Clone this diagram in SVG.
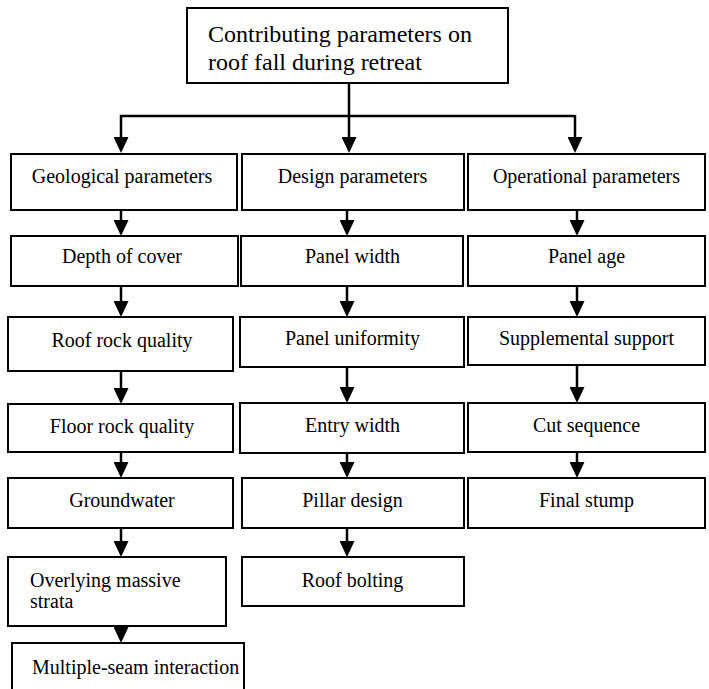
<svg xmlns="http://www.w3.org/2000/svg" width="709" height="689" viewBox="0 0 709 689">
<style>
rect{fill:#fff;stroke:#000;stroke-width:2}
text{font-family:'Liberation Serif','Times New Roman','DejaVu Serif',serif;font-size:20px;fill:#000}
.c{text-anchor:middle}
.t{font-size:24px}
.conn path{fill:none;stroke:#000;stroke-width:2.5}
</style>
<defs>
<marker id="ah" viewBox="0 0 16 15" refX="8" refY="7.5" markerWidth="16" markerHeight="15" orient="auto" markerUnits="userSpaceOnUse">
<path d="M0,0 L16,7.5 L0,15 Z" fill="#000"/>
</marker>
</defs>
<rect x="0" y="0" width="709" height="689" style="stroke:none"/>
<g font-family="Liberation Serif, serif">
<g id="root"><rect x="187" y="8" width="321" height="75"/><text class="t" x="208" y="42">Contributing parameters on</text><text class="t" x="208" y="70">roof fall during retreat</text></g>

<g id="geo"><rect x="11" y="154" width="226" height="56"/><text class="c" x="122" y="183">Geological parameters</text></g>
<g id="design"><rect x="242" y="154" width="222" height="56"/><text class="c" x="352.5" y="183">Design parameters</text></g>
<g id="oper"><rect x="468" y="154" width="237" height="56"/><text class="c" x="586.5" y="183">Operational parameters</text></g>

<g id="depth"><rect x="11" y="236" width="227" height="50"/><text class="c" x="122" y="263">Depth of cover</text></g>
<g id="pwidth"><rect x="241" y="236" width="222" height="50"/><text class="c" x="352.5" y="263">Panel width</text></g>
<g id="page"><rect x="468" y="236" width="237" height="50"/><text class="c" x="586.5" y="263">Panel age</text></g>

<g id="roofrock"><rect x="8" y="317" width="225" height="54"/><text class="c" x="122" y="347">Roof rock quality</text></g>
<g id="puni"><rect x="240" y="317" width="224" height="50"/><text class="c" x="352.5" y="345">Panel uniformity</text></g>
<g id="supp"><rect x="468" y="317" width="237" height="48"/><text class="c" x="586.5" y="345">Supplemental support</text></g>

<g id="floor"><rect x="8" y="404" width="225" height="48"/><text class="c" x="122" y="433">Floor rock quality</text></g>
<g id="entry"><rect x="240" y="403" width="224" height="50"/><text class="c" x="352.5" y="432">Entry width</text></g>
<g id="cut"><rect x="468" y="403" width="237" height="49"/><text class="c" x="586.5" y="432">Cut sequence</text></g>

<g id="ground"><rect x="8" y="478" width="225" height="50"/><text class="c" x="122" y="507">Groundwater</text></g>
<g id="pillar"><rect x="242" y="478" width="222" height="50"/><text class="c" x="352.5" y="507">Pillar design</text></g>
<g id="stump"><rect x="468" y="478" width="237" height="50"/><text class="c" x="586.5" y="507">Final stump</text></g>

<g id="overlying"><rect x="8" y="557" width="218" height="69"/><text x="30" y="587">Overlying massive</text><text x="30" y="608">strata</text></g>
<g id="bolting"><rect x="242" y="557" width="222" height="49"/><text class="c" x="352.5" y="587">Roof bolting</text></g>

<g id="multi"><rect x="12" y="643" width="232" height="60"/><text x="32" y="674">Multiple-seam interaction</text></g>
</g>
<g class="conn" id="connectors">
<path d="M349,83 V145" marker-end="url(#ah)"/>
<path d="M575,116 H121 V145" marker-end="url(#ah)"/>
<path d="M575,115 V145" marker-end="url(#ah)"/>
<path d="M121,210 V228" marker-end="url(#ah)"/>
<path d="M347,210 V228" marker-end="url(#ah)"/>
<path d="M577,210 V228" marker-end="url(#ah)"/>
<path d="M121,286 V309" marker-end="url(#ah)"/>
<path d="M347,286 V309" marker-end="url(#ah)"/>
<path d="M577,286 V309" marker-end="url(#ah)"/>
<path d="M121,371 V396" marker-end="url(#ah)"/>
<path d="M347,367 V395" marker-end="url(#ah)"/>
<path d="M577,365 V395" marker-end="url(#ah)"/>
<path d="M121,452 V470" marker-end="url(#ah)"/>
<path d="M347,453 V470" marker-end="url(#ah)"/>
<path d="M577,452 V470" marker-end="url(#ah)"/>
<path d="M121,528 V549" marker-end="url(#ah)"/>
<path d="M347,528 V549" marker-end="url(#ah)"/>
<path d="M121,626 V635" marker-end="url(#ah)"/>
</g>
</svg>
